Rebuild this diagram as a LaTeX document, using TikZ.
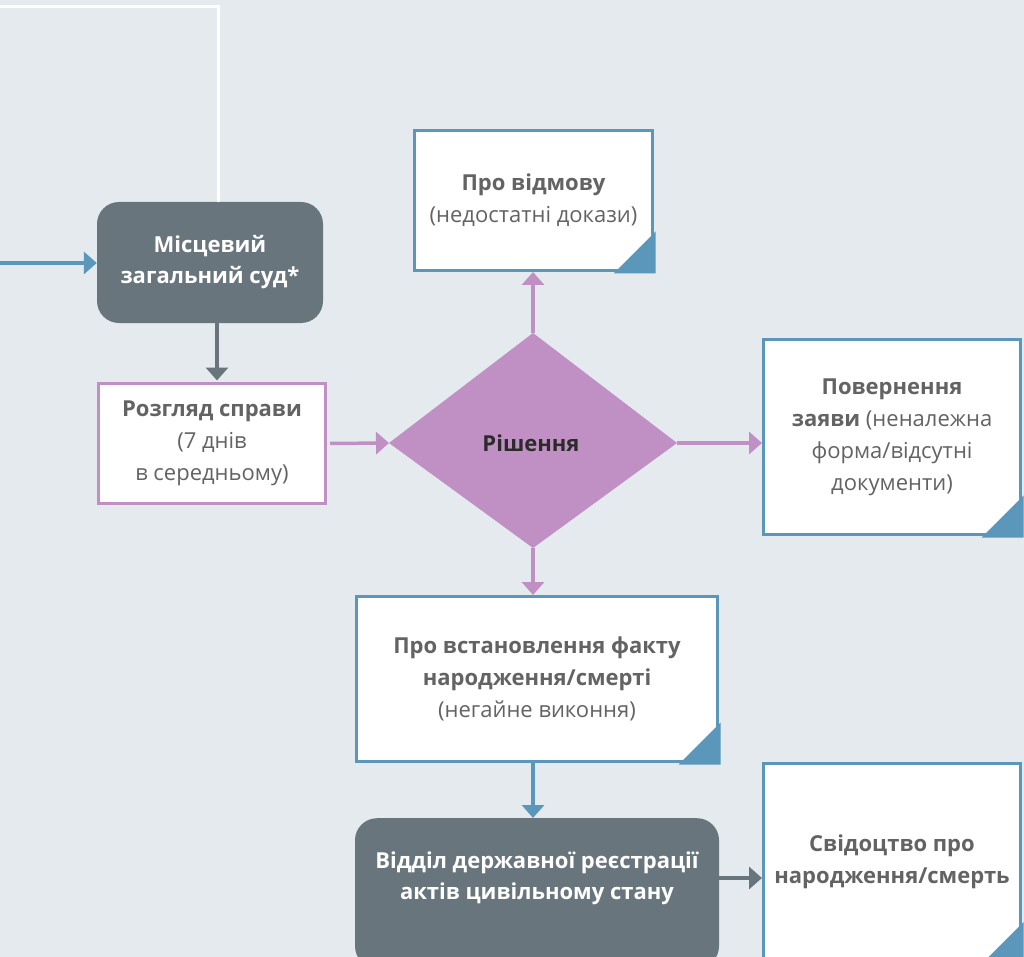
\documentclass[tikz,border=0pt]{standalone}
\usepackage{fontspec}
\setmainfont{Open Sans}
\usetikzlibrary{arrows.meta,calc}
\definecolor{bg}{HTML}{E5EAEE}
\definecolor{blu}{HTML}{5A97BA}
\definecolor{pur}{HTML}{C090C4}
\definecolor{slate}{HTML}{68757D}
\definecolor{txt}{HTML}{636363}
\definecolor{dtxt}{HTML}{2B2B2B}
\begin{document}
\begin{tikzpicture}[x=1pt,y=-1pt,
  conn/.style={line width=3.5pt,-{Triangle[length=13pt,width=22pt]}},
  card/.style={draw=blu,line width=3pt,fill=white,align=center,text=txt,inner sep=0pt,
    font=\fontsize{22}{32}\selectfont},
  pcard/.style={card,draw=pur},
  darkbox/.style={fill=slate,rounded corners=22pt,align=center,text=white,inner sep=0pt,
    font=\fontsize{22}{31}\selectfont\bfseries},
  lbl/.style={align=center,inner sep=0pt,font=\fontsize{22}{31}\selectfont\bfseries},
  corner/.style={fill=blu}
]
\path[use as bounding box] (0,0) rectangle (1024,957);
\clip (0,0) rectangle (1024,957);
\fill[bg] (0,0) rectangle (1024,957);

% nodes
\node[darkbox,minimum width=226pt,minimum height=121pt] (court) at (210,262.5)
  {Місцевий\\загальний суд*};
\node[pcard,minimum width=227pt,minimum height=120pt] (rev) at (212,443.5)
  {\textbf{Розгляд справи}\\(7 днів\\в середньому)};
\node[card,minimum width=238pt,minimum height=140pt] (ref) at (533.5,200.5)
  {\textbf{Про відмову}\\(недостатні докази)};
\node[card,minimum width=257pt,minimum height=195pt] (ret) at (892,437)
  {\textbf{Повернення}\\\textbf{заяви} (неналежна\\форма/відсутні\\документи)};
\node[card,minimum width=361pt,minimum height=165pt] (est) at (537,679)
  {\textbf{Про встановлення факту}\\\textbf{народження/смерті}\\(негайне виконня)};
\node[darkbox,minimum width=364pt,minimum height=150pt,anchor=north] (reg) at (537,818) {};
\node[lbl,text=white] (regtxt) at (537,878)
  {Відділ державної реєстрації\\актів цивільному стану};
\node[card,minimum width=257pt,minimum height=198pt] (cert) at (892,862)
  {\textbf{Свідоцтво про}\\\textbf{народження/смерть}};

% corner triangles
\foreach \n in {ref,ret,est,cert}{
  \fill[corner] ($(\n.south east)+(1.5,1.5)$) -- ++(-42,0) -- ++(42,-42) -- cycle;
}

% diamond
\coordinate (dl) at (389,443);
\coordinate (dr) at (677,443);
\coordinate (dt) at (533,333);
\coordinate (db) at (533,548);
\fill[pur] (dl) -- (dt) -- (dr) -- (db) -- cycle;
\node[lbl,text=dtxt] (dec) at (531,443) {Рішення};

% connectors
\coordinate (in0) at (0,263);
\coordinate (w0) at (0,7);
\coordinate (w1) at (218,7);
\draw[white,line width=3pt] (w0) -- (w1) -- (w1 |- court.north);
\draw[conn,blu] (in0) -- (in0 -| court.west);
\draw[conn,slate] ($(court.south)+(7,0)$) -- ($(rev.north)+(5,-1.5)$);
\draw[conn,pur,shorten <=3pt] (rev.east) -- (dl);
\draw[conn,pur] (dt) -- (dt |- ref.south);
\draw[conn,pur] (dr) -- (dr -| ret.west);
\draw[conn,pur] (db) -- (db |- est.north);
\draw[conn,blu] (db |- est.south) -- (db |- reg.north);
\draw[conn,slate] (regtxt.east -| reg.east) -- (regtxt.east -| cert.west);
\end{tikzpicture}
\end{document}
